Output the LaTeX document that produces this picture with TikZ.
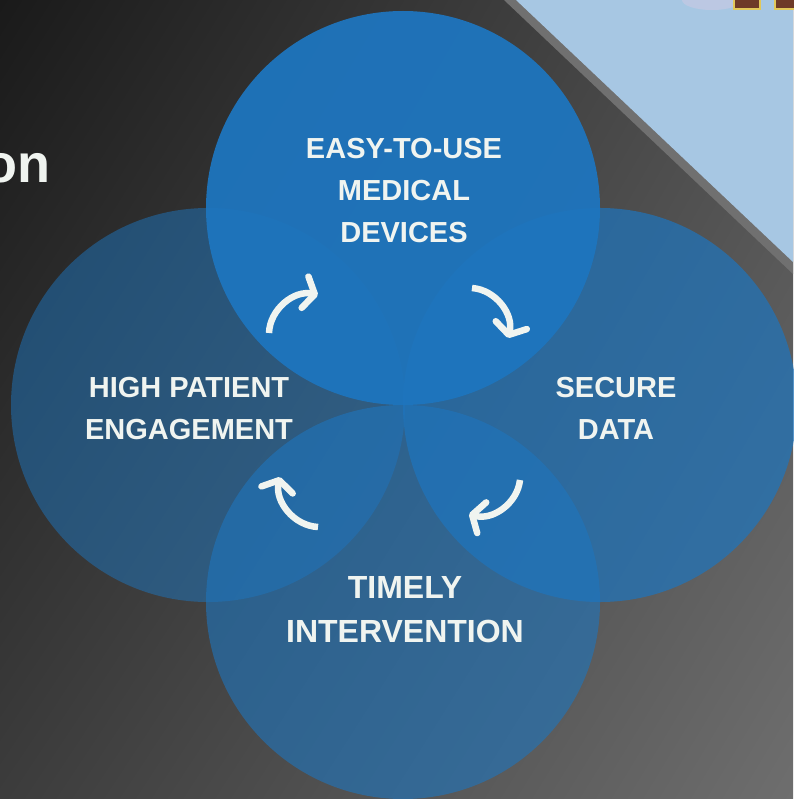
\documentclass[tikz,border=0pt]{standalone}
\usepackage{fontspec}
\setmainfont{Liberation Sans}
\usetikzlibrary{arrows.meta, shadings}
\definecolor{discblue}{RGB}{30,117,190}
\definecolor{bandblue}{RGB}{167,199,227}
\definecolor{bandgrey}{RGB}{112,112,112}
\definecolor{labelwhite}{RGB}{240,244,240}
\definecolor{bgul}{RGB}{26,26,26}
\definecolor{bgur}{RGB}{80,80,80}
\definecolor{bgll}{RGB}{60,60,60}
\definecolor{bglr}{RGB}{110,110,110}
\definecolor{framebrown}{RGB}{110,58,40}
\definecolor{frameyellow}{RGB}{225,200,90}
\tikzset{
    disc/.style={circle, minimum size=394pt, inner sep=0pt, fill=discblue},
    lbl/.style={text=labelwhite, align=center, inner sep=0pt,
        font=\bfseries\fontsize{29}{42}\selectfont},
    turn/.style={draw=labelwhite, line width=6.5pt, bend left=50,
        -{Straight Barb[round, length=10pt, width=32pt]}}
}

\begin{document}
\begin{tikzpicture}[x=1pt, y=-1pt]
    \useasboundingbox (0,0) rectangle (793,799);
    \shade[upper left=bgul, upper right=bgur, lower left=bgll, lower right=bglr]
        (0,0) rectangle (793,799);
    \fill[bandgrey] (504,0) -- (793,0) -- (793,274) -- cycle;
    \fill[bandblue] (516,0) -- (793,0) -- (793,262) -- cycle;
    \fill[white!80!violet, opacity=.35] (712,0) ellipse (30 and 10);
    \foreach \x in {734,775}{
            \draw[fill=framebrown, draw=frameyellow, line width=1.5pt]
                (\x,-4) rectangle (\x+26,9);
        }
    \node[lbl, anchor=base east, font=\bfseries\fontsize{54}{54}\selectfont]
        (title) at (51,183) {on};

    \foreach \name/\x/\y/\op in {left/208/405/0.5, right/600/405/0.7,
            bottom/403/602/0.6, top/403/208/0.95}{
            \node[disc, fill opacity=\op] (\name) at (\x,\y) {};
        }

    \node[lbl] (devices) at (404,191) {EASY-TO-USE\\MEDICAL\\DEVICES};
    \node[lbl] (engage) at (189,409) {HIGH PATIENT\\ENGAGEMENT};
    \node[lbl] (secure) at (616,408) {SECURE\\DATA};
    \node[lbl, font=\bfseries\fontsize{32}{44}\selectfont]
        (timely) at (405,610) {TIMELY\\INTERVENTION};

    \coordinate (a1) at (269,333);
    \coordinate (b1) at (318,295);
    \coordinate (a2) at (472,288);
    \coordinate (b2) at (508,338);
    \coordinate (a3) at (520,480);
    \coordinate (b3) at (469,514);
    \coordinate (a4) at (318,527);
    \coordinate (b4) at (280,477);
    \foreach \i in {1,...,4}{
            \draw[turn] (a\i) to (b\i);
        }
\end{tikzpicture}
\end{document}
